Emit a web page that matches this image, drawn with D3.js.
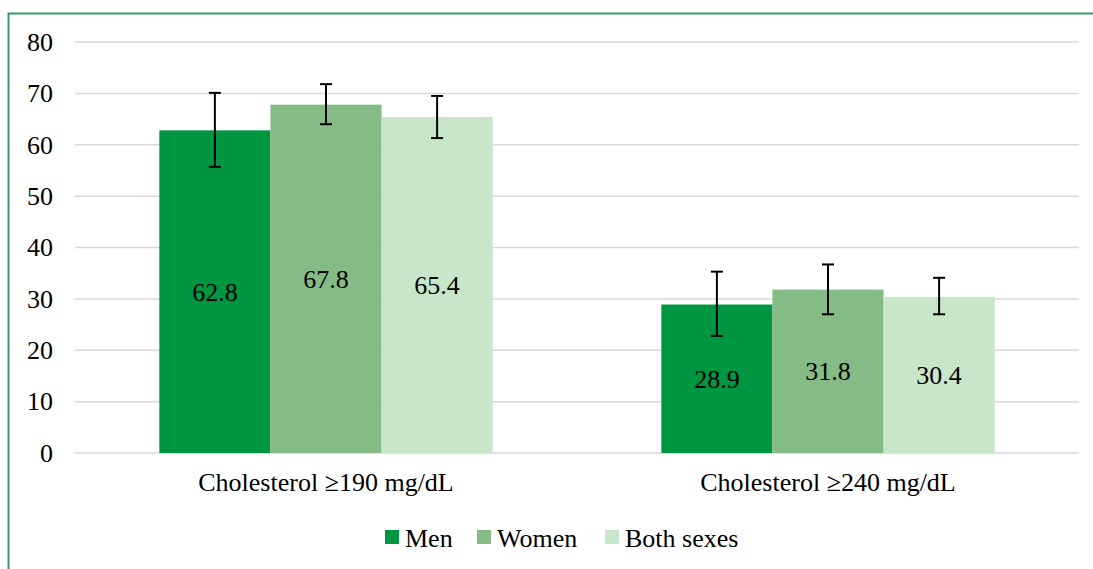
<!DOCTYPE html>
<html><head><meta charset="utf-8">
<script src="https://cdn.jsdelivr.net/npm/d3@7/dist/d3.min.js"></script>
</head><body style="margin:0;background:#fff">
<svg id="chart" width="1093" height="569" style="display:block;font-family:'Liberation Serif','Times New Roman',Tinos,serif"></svg>
<script>
const categories = ["Cholesterol \u2265190 mg/dL", "Cholesterol \u2265240 mg/dL"];
const seriesNames = ["Men", "Women", "Both sexes"];
const men = [62.8, 28.9];
const women = [67.8, 31.8];
const both = [65.4, 30.4];
const menLow = [55.7, 22.8], menHigh = [70.1, 35.3];
const womenLow = [64.0, 27.0], womenHigh = [71.8, 36.7];
const bothLow = [61.3, 27.0], bothHigh = [69.5, 34.1];
const yTicks = [0, 10, 20, 30, 40, 50, 60, 70, 80];
const colors = ["#009540", "#85bb85", "#c8e6c9"];
const FONT = "'Liberation Serif', 'Times New Roman', Tinos, serif";

const series = [
  {name: seriesNames[0], values: men, low: menLow, high: menHigh},
  {name: seriesNames[1], values: women, low: womenLow, high: womenHigh},
  {name: seriesNames[2], values: both, low: bothLow, high: bothHigh}
];

const svg = d3.select("#chart");
// border
svg.append("rect").attr("x", 8.5).attr("y", 13.5).attr("width", 1100).attr("height", 600)
  .attr("fill", "none").attr("stroke", "#3a9a6a").attr("stroke-width", 2);

const pLeft = 75, pRight = 1079, pTop = 42, pBottom = 453;
const y = d3.scaleLinear().domain([0, 80]).range([pBottom, pTop]);
const x0 = d3.scaleBand().domain(categories).range([pLeft, pRight]).paddingInner(0.336).paddingOuter(0.168);
const x1 = d3.scaleBand().domain(seriesNames).range([0, x0.bandwidth()]);

// gridlines
svg.append("g").selectAll("line").data(yTicks).join("line")
  .attr("x1", pLeft).attr("x2", pRight)
  .attr("y1", d => y(d)).attr("y2", d => y(d))
  .attr("stroke", "#d9d9d9").attr("stroke-width", 1.5);

// y axis labels
const yAxis = d3.axisLeft(y).tickValues(yTicks).tickSize(0).tickPadding(0);
const gy = svg.append("g").attr("transform", `translate(${pLeft - 22},0)`).call(yAxis);
gy.attr("font-family", null).attr("font-size", null);
gy.select(".domain").remove();
gy.selectAll("text").attr("fill", "#000").style("font-family", FONT).style("font-size", "26px");

// x axis labels
const xAxis = d3.axisBottom(x0).tickSize(0).tickPadding(0);
const gx = svg.append("g").attr("transform", `translate(0,${pBottom + 20})`).call(xAxis);
gx.attr("font-family", null).attr("font-size", null);
gx.select(".domain").remove();
gx.selectAll("text").attr("fill", "#000").style("font-family", FONT).style("font-size", "26px");

// bars
series.forEach((s, si) => {
  const g = svg.append("g");
  g.selectAll("rect").data(categories).join("rect")
    .attr("x", (c) => x0(c) + x1(s.name))
    .attr("y", (c, i) => y(s.values[i]))
    .attr("width", x1.bandwidth())
    .attr("height", (c, i) => y(0) - y(s.values[i]))
    .attr("fill", colors[si]);
  g.selectAll("text").data(categories).join("text")
    .attr("x", (c) => x0(c) + x1(s.name) + x1.bandwidth() / 2)
    .attr("y", (c, i) => (y(s.values[i]) + y(0)) / 2)
    .attr("dy", "0.35em")
    .attr("text-anchor", "middle")
    .attr("fill", "#000")
    .style("font-family", FONT).style("font-size", "26px")
    .text((c, i) => s.values[i].toFixed(1));
});

// error bars
series.forEach((s) => {
  const g = svg.append("g").attr("stroke", "#000").attr("stroke-width", 2);
  categories.forEach((c, i) => {
    const cx = x0(c) + x1(s.name) + x1.bandwidth() / 2;
    g.append("line").attr("x1", cx).attr("x2", cx).attr("y1", y(s.low[i])).attr("y2", y(s.high[i]));
    g.append("line").attr("x1", cx - 6).attr("x2", cx + 6).attr("y1", y(s.low[i])).attr("y2", y(s.low[i]));
    g.append("line").attr("x1", cx - 6).attr("x2", cx + 6).attr("y1", y(s.high[i])).attr("y2", y(s.high[i]));
  });
});

// legend
const legendX = [385, 477, 605];
const lg = svg.append("g");
seriesNames.forEach((n, i) => {
  lg.append("rect").attr("x", legendX[i]).attr("y", 530).attr("width", 14).attr("height", 14).attr("fill", colors[i]);
  lg.append("text").attr("x", legendX[i] + 20).attr("y", 538).attr("dy", "0.35em")
    .attr("fill", "#000").style("font-family", FONT).style("font-size", "26px").text(n);
});
</script>
</body></html>
